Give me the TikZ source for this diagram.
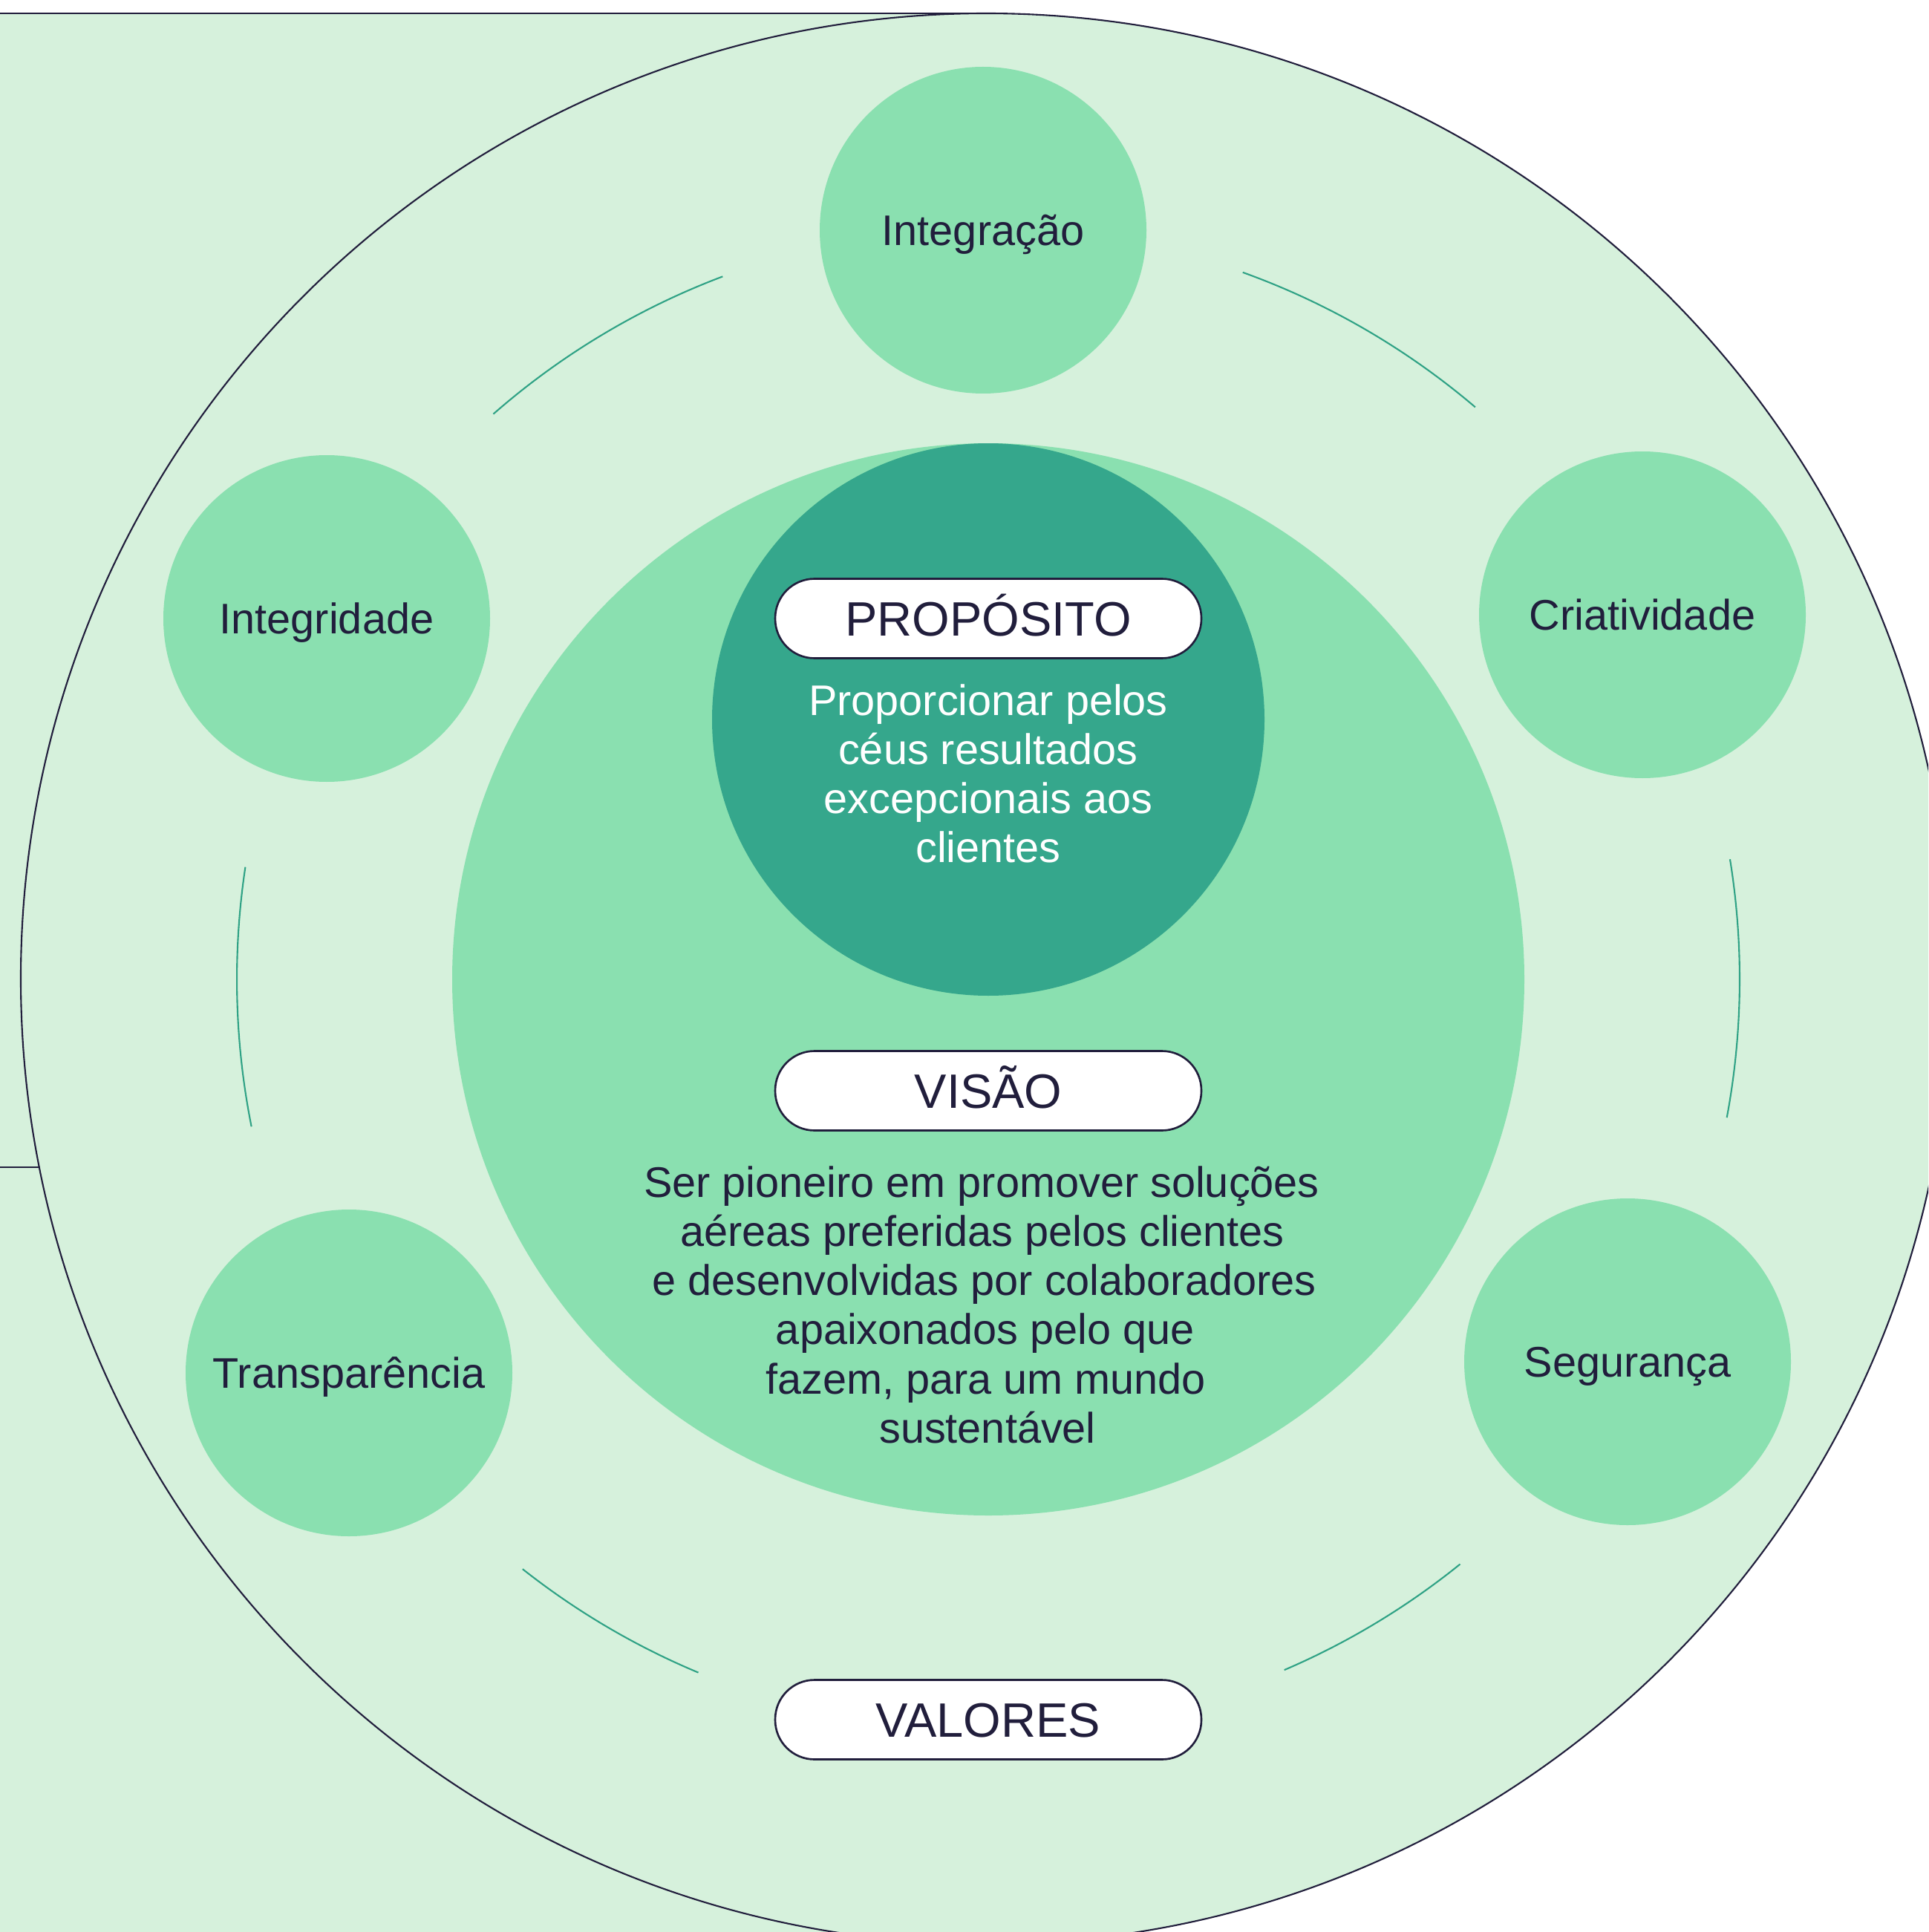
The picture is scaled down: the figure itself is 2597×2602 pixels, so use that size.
\documentclass[tikz,border=0pt]{standalone}
\usepackage{fontspec}
\setmainfont{Liberation Sans}
\definecolor{bglight}{HTML}{D6F1DC}
\definecolor{midgreen}{HTML}{8AE0B0}
\definecolor{tealc}{HTML}{35A78C}
\definecolor{navy}{HTML}{211E3C}
\definecolor{arcteal}{HTML}{2FA285}
\begin{document}
\begin{tikzpicture}[x=0.1mm,y=0.1mm,
  valuenode/.style={circle, fill=midgreen, minimum size=44mm, inner sep=0pt, text=navy,
    font=\fontsize{16.4}{18.8}\selectfont, text height=4.15mm, text depth=0pt},
  pill/.style={rectangle, rounded corners=5.3mm, draw=navy, line width=0.75pt, fill=white,
    minimum width=57.4mm, minimum height=10.7mm, inner sep=0pt, text=navy,
    font=\fontsize{18.5}{22}\selectfont, text height=4.67mm, text depth=0pt},
  bodyline/.style={anchor=base, inner sep=0pt, font=\fontsize{16.4}{18.8}\selectfont},
  ringarc/.style={draw=arcteal, line width=0.6pt},
  outline/.style={draw=navy, line width=0.6pt}]

\useasboundingbox (0,0) rectangle (2597,-2602);
\clip (0,0) rectangle (2597,-2602);

% background
\coordinate (bigc) at (1328,-1318);
\coordinate (tl) at (0,-18);
\coordinate (bigtop) at (1328,-18);
\coordinate (midl) at (0,-1572);
\coordinate (midr) at (53.5,-1572);
\fill[bglight] (0,-18) rectangle (1328,-2700);
\fill[bglight] (bigc) circle[radius=1300];
\draw[outline] (bigc) circle[radius=1300];
\draw[outline] (tl) -- (bigtop);
\draw[outline] (midl) -- (midr);

% ring arcs
\coordinate (ring) at (1331,-1319);
\draw[ringarc] (ring) ++(110.7:1012) arc[start angle=110.7, end angle=131.2, radius=1012];
\draw[ringarc] (ring) ++(49.6:1012) arc[start angle=49.6, end angle=70.2, radius=1012];
\draw[ringarc] (ring) ++(171.4:1012) arc[start angle=171.4, end angle=191.3, radius=1012];
\draw[ringarc] (ring) ++(-10.6:1012) arc[start angle=-10.6, end angle=9.2, radius=1012];
\draw[ringarc] (ring) ++(231.7:1012) arc[start angle=231.7, end angle=247.3, radius=1012];
\draw[ringarc] (ring) ++(293.2:1012) arc[start angle=293.2, end angle=308.9, radius=1012];

% central circles
\node[circle, fill=midgreen, minimum size=144.4mm, inner sep=0pt] (core) at (1331,-1319) {};
\node[circle, fill=tealc, minimum size=74.4mm, inner sep=0pt] (purpose) at (1331,-969) {};

% values
\node[valuenode] (integracao) at (1324,-310) {Integração};
\node[valuenode] (integridade) at (440,-833) {Integridade};
\node[valuenode] (criatividade) at (2212,-828) {Criatividade};
\node[valuenode] (transparencia) at (470,-1849) {Transparência};
\node[valuenode] (seguranca) at (2192,-1834) {Segurança};

% pills
\node[pill] (proposito) at (1331,-833) {PROPÓSITO};
\node[pill] (visao) at (1331,-1469) {VISÃO};
\node[pill] (valores) at (1331,-2316) {VALORES};

% purpose text
\node[bodyline, text=white] (p1) at (1331,-963) {Proporcionar pelos};
\node[bodyline, text=white] (p2) at (1331,-1029.3) {céus resultados};
\node[bodyline, text=white] (p3) at (1331,-1095.6) {excepcionais aos};
\node[bodyline, text=white] (p4) at (1331,-1161.9) {clientes};

% vision text
\node[bodyline, text=navy] (v1) at (1322,-1612) {Ser pioneiro em promover soluções};
\node[bodyline, text=navy] (v2) at (1323,-1678.3) {aéreas preferidas pelos clientes};
\node[bodyline, text=navy] (v3) at (1325.5,-1744.6) {e desenvolvidas por colaboradores};
\node[bodyline, text=navy] (v4) at (1327,-1810.9) {apaixonados pelo que};
\node[bodyline, text=navy] (v5) at (1327.5,-1877.2) {fazem, para um mundo};
\node[bodyline, text=navy] (v6) at (1330,-1943.5) {sustentável};
\end{tikzpicture}
\end{document}
